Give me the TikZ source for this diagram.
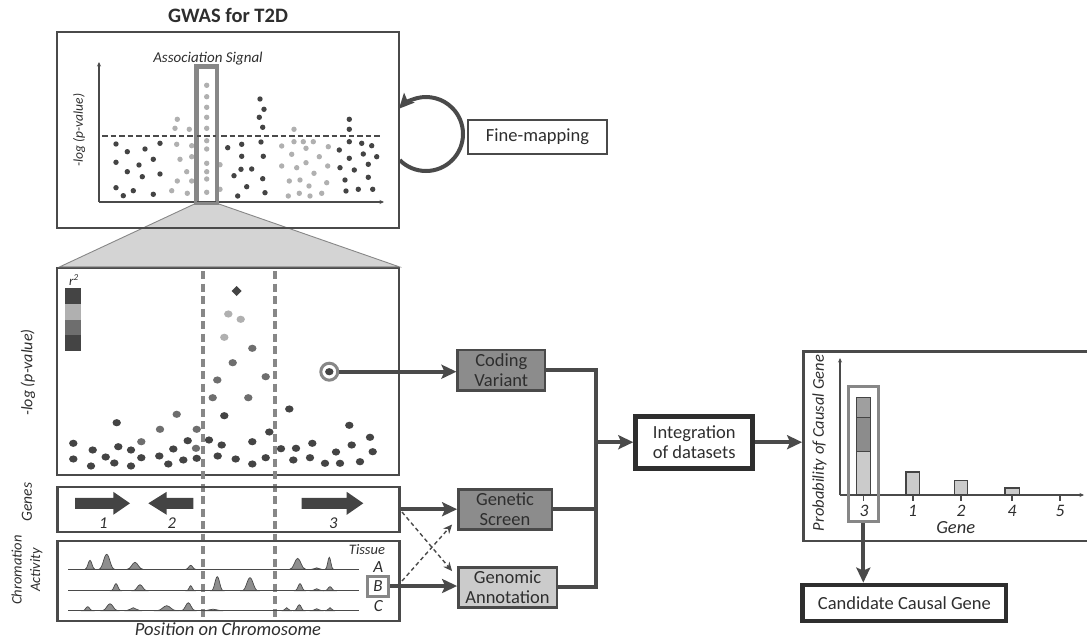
\documentclass[tikz,border=0pt]{standalone}
\usepackage{fontspec}
\setmainfont{Carlito}
\usetikzlibrary{arrows.meta}
\definecolor{ln}{HTML}{4A4A4A}
\definecolor{txt}{HTML}{2E2E2E}
\definecolor{dk}{HTML}{444444}
\definecolor{md}{HTML}{6E6E6E}
\definecolor{lt}{HTML}{B0B0B0}
\definecolor{hl}{HTML}{878787}
\definecolor{boxdk}{HTML}{8C8C8C}
\definecolor{boxlt}{HTML}{CBCBCB}
\definecolor{zoomfill}{HTML}{D4D4D4}
\definecolor{peakfill}{HTML}{8E8E8E}
\newcommand\fsz[2]{\fontsize{#1}{#2}\selectfont}
\newcommand\pk[4]{\filldraw[fill=peakfill,draw=ln,line width=0.7pt] ({#1-#3},#2) .. controls ({#1-#3/2},#2) and ({#1-#3/3},{#2-#4}) .. (#1,{#2-#4}) .. controls ({#1+#3/3},{#2-#4}) and ({#1+#3/2},#2) .. ({#1+#3},#2) -- cycle;}
\newcommand\blkR[4]{\fill[dk] (#1,{#4-5.5}) -- (#2,{#4-5.5}) -- (#2,{#4-11.5}) -- (#3,#4) -- (#2,{#4+11.5}) -- (#2,{#4+5.5}) -- (#1,{#4+5.5}) -- cycle;}
\begin{document}
\begin{tikzpicture}[x=1pt,y=-1pt,
  panel/.style={draw=ln,line width=2.4pt,inner sep=0pt},
  conn/.style={draw=ln,line width=4pt},
  tipbig/.style={-{Stealth[length=15pt,width=14pt,inset=3pt]}},
  procbox/.style={draw=ln,line width=2.4pt,align=center,text=txt,font=\fsz{18.5}{19.5},inner sep=0pt},
  thickbox/.style={draw=txt,line width=4.8pt,align=center,text=txt,font=\fsz{18.5}{20},inner sep=0pt,fill=white},
  hlbox/.style={draw=hl,line width=3pt,inner sep=0pt},
  axis/.style={draw=ln,line width=1.4pt,-{Stealth[length=4.5pt,width=4pt]}},
  lab/.style={text=txt,inner sep=0pt},
  vdash/.style={draw=hl,line width=3.4pt,dash pattern=on 8pt off 4.5pt},
  cross/.style={draw=ln,line width=1.4pt,dash pattern=on 4pt off 3pt,-{Stealth[length=9pt,width=8pt]}},
]
\useasboundingbox (0,0) rectangle (1087,640);

% ---------- top GWAS panel ----------
\node[lab,font=\bfseries\fsz{20.5}{22}] (title) at (228,15) {GWAS for T2D};
\node[hlbox,minimum width=19pt,minimum height=135pt] (sig) at (206.5,134.5) {};
\node[panel,minimum width=342pt,minimum height=207pt] (reg) at (228,371.5) {};
\fill[zoomfill,draw=hl,line width=0.9pt] (sig.south west) -- (sig.south east) -- ([xshift=-1pt]reg.north east) -- ([xshift=4pt]reg.north west) -- cycle;
\node[panel,minimum width=342pt,minimum height=196pt] (top) at (228,130) {};
\draw[axis] (99,202) -- (99,62);
\draw[axis] (99,202) -- (384,202);
\node[lab,rotate=90,font=\itshape\fsz{13.5}{14}] (ylab1) at (79,130) {-log (p-value)};
\node[lab,font=\itshape\fsz{15}{16}] (assoc) at (208,59) {Association Signal};
\draw[draw=ln,line width=2.4pt,dash pattern=on 5.5pt off 3pt] (102,136) -- (380,136);
\foreach \x/\y in {116/144,127.3/151.7,145/149,160/143.3,116/162.3,139/165,153.3/159.3,127.3/171.7,142.3/176.7,160/174,116/187.7,123.3/195.7,133.3/190.7,153.3/194.3,
260/99,264/109.3,259.3/117.3,262.7/127.3,227.7/147.7,241.7/144.3,261/142,241.7/156.3,263.3/156.3,241/169.3,251.7/169,234/175.7,262.7/178.7,246.7/186.7,237.7/196,265/192.7,
349.3/119.3,349.3/129.3,349.3/141.7,361.7/143.3,371.7/145.7,339.3/150,349.3/158.3,363.3/154,376.7/156.7,340/167.7,354.3/170,368.3/164.3,345/180,368.3/177.3,346/191,358.3/189.3,372.7/189.3}
  \fill[dk] (\x,\y) circle[radius=2.7];
\foreach \x/\y in {177.3/119.3,175/128.3,189.3/129.3,176.7/144.3,191.7/145.7,180/159.3,191.7/156.7,186.7/171.7,177.3/181,191.7/181,171.7/190.7,187.3/193.3,
206.7/85.3,206.7/96.7,206.7/107.3,206.7/117.3,206.7/128.3,206.7/140.7,206.7/149,206.7/163.3,206.7/171.7,206.7/179,206.7/192.3,220/164.7,220/189.3,
294/129.3,294/141.7,281.7/146,303.3/141.7,313.3/141.7,328.3/146.7,291.7/154.3,306/148.3,319.3/156.7,281.7/166,296.7/167.7,306/162.7,327.7/166,314/173.3,289.3/181,300/180,309/186,326.7/182.7,288.3/196,299.3/193.3,310/196,321.7/193.3}
  \fill[lt] (\x,\y) circle[radius=2.7];
\draw[hl,line width=3pt] (sig.south west) rectangle (sig.north east);

% fine-mapping loop
\draw[conn,tipbig] ([shift={(135:37)}]426,134) arc[start angle=135,end angle=-137,radius=37];
\node[draw=ln,line width=2pt,minimum width=139pt,minimum height=34pt,inner sep=0pt,text=txt,font=\fsz{18.5}{20}] (fm) at (537.5,137) {Fine-mapping};

% ---------- regional plot ----------
\node[lab,rotate=90,font=\itshape\fsz{16}{17}] (ylab2) at (28,372.5) {-log (p-value)};
\node[lab,font=\itshape\fsz{13}{13}] (r2) at (74,280) {r\textsuperscript{2}};
\fill[dk] (65,288) rectangle (81,304);
\fill[lt] (65,304) rectangle (81,319.5);
\fill[md] (65,319.5) rectangle (81,335);
\fill[dk] (65,335) rectangle (81,351);
\draw[vdash] (203,271) -- (203,619);
\draw[vdash] (275,271) -- (275,619);
\fill[dk] (236.7,286) -- (241.7,291) -- (236.7,296) -- (231.7,291) -- cycle;
\foreach \x/\y in {228.3/314,240.7/319.3,224.3/337.3}
  \fill[lt] (\x,\y) ellipse[x radius=4.2, y radius=3.6];
\foreach \x/\y in {252.3/348.3,232.7/362.7,217.3/380,265.7/376.7,212.7/397.7,248.3/397.7,176.7/414.3,160/429.3,196.7/429.3,141.3/441.7,196/448.3}
  \fill[md] (\x,\y) ellipse[x radius=4.2, y radius=3.6];
\foreach \x/\y in {224.3/415.7,289.3/409,116.7/422.7,349.3/425.3,269.3/432,73.3/443.3,92.7/450,118.3/446.7,131/450,187.7/440.7,173.3/449,209/440,221.7/445,252.3/441.7,281/448.7,296/448.3,312.3/443.3,370/437.3,351.7/445,336/452,372.7/451.7,73.3/459,91/466,105.7/457,114.3/463,131/466,141.3/457.7,159.3/456,168.3/464,183.3/460,196.7/458.3,217.7/456,235.7/459,252.3/464,265.7/457.7,293.3/460,310/457.7,325/463.3,340/463.3,360/461.7}
  \fill[dk] (\x,\y) ellipse[x radius=4.2, y radius=3.6];
\node[circle,draw=hl,line width=3pt,fill=white,minimum size=17pt,inner sep=0pt] (cv) at (329.3,371.7) {};
\fill[dk] (cv.center) ellipse[x radius=4.2, y radius=3.6];

% ---------- genes ----------
\node[panel,minimum width=342pt,minimum height=45pt] (genes) at (228.3,509.2) {};
\node[lab,rotate=90,font=\itshape\fsz{15.5}{16}] (geneslab) at (27,502) {Genes};
\blkR{75}{113.3}{130}{503.3}
\blkR{193.3}{166.7}{148.3}{503.3}
\blkR{301.7}{346.7}{363.3}{503.3}
\node[lab,font=\itshape\fsz{16.5}{16}] (g1) at (103.3,523.5) {1};
\node[lab,font=\itshape\fsz{16.5}{16}] (g2) at (171.7,523.5) {2};
\node[lab,font=\itshape\fsz{16.5}{16}] (g3) at (333.3,523.5) {3};

% ---------- chromatin ----------
\node[panel,minimum width=342pt,minimum height=80pt] (chrom) at (228.3,580.7) {};
\node[lab,rotate=90,align=center,font=\itshape\fsz{14.5}{18.5}] (chromlab) at (27,570) {Chromation\\Activity};
\pk{90}{569.3}{5}{9}
\pk{106.7}{569.3}{8}{15}
\pk{135}{569.3}{8}{7}
\pk{190.7}{569.3}{5}{4}
\pk{297.7}{569.3}{8}{11}
\pk{316.7}{569.3}{5}{1.5}
\pk{329.3}{569.3}{4}{12}
\pk{116}{590.7}{5}{7}
\pk{140}{590.7}{7}{6}
\pk{190.7}{590.7}{4}{5}
\pk{217.3}{590.7}{6}{14}
\pk{250}{590.7}{8}{13}
\pk{300}{590.7}{5}{7}
\pk{316.7}{590.7}{5}{2}
\pk{330}{590.7}{5}{4}
\pk{87.7}{610.7}{5}{4}
\pk{110}{610.7}{8}{7}
\pk{133.3}{610.7}{7}{3}
\pk{166.7}{610.7}{10}{5}
\pk{188.3}{610.7}{7}{8}
\pk{213}{610.7}{10}{1.5}
\pk{286.7}{610.7}{4}{3}
\pk{299.3}{610.7}{5}{6}
\pk{316.7}{610.7}{5}{2}
\pk{330}{610.7}{4}{3}
\draw[ln,line width=1.4pt] (68.3,569.3) -- (359.3,569.3);
\draw[ln,line width=1.4pt] (68.3,590.7) -- (359.3,590.7);
\draw[ln,line width=1.4pt] (68.3,610.7) -- (359.3,610.7);
\node[lab,font=\itshape\fsz{14.5}{14}] (tissue) at (367,550) {Tissue};
\node[lab,font=\itshape\fsz{17}{16}] (tA) at (378.3,567) {A};
\node[hlbox,minimum width=20.6pt,minimum height=20pt,font=\itshape\fsz{17}{16},text=txt] (bbox) at (378,586) {B};
\node[lab,font=\itshape\fsz{17}{16}] (tC) at (378.3,606.5) {C};
\node[lab,font=\itshape\fsz{18.5}{18}] (pos) at (228,629.5) {Position on Chromosome};

% ---------- evidence boxes ----------
\node[procbox,fill=boxdk,minimum width=87.3pt,minimum height=40.7pt] (coding) at (501.3,370.3) {Coding\\Variant};
\node[procbox,fill=boxdk,minimum width=93.4pt,minimum height=40pt] (gs) at (505,509.3) {Genetic\\Screen};
\node[procbox,fill=boxlt,minimum width=98.4pt,minimum height=40pt] (ga) at (507.5,587.3) {Genomic\\Annotation};
\draw[conn,tipbig] (cv.east) -- (cv.east -| coding.west);
\draw[conn,tipbig] (genes.east) -- (genes.east -| gs.west);
\draw[conn,tipbig] (bbox.east) -- (bbox.east -| ga.west);
\coordinate (d1s) at (402,512);
\coordinate (d2s) at (402,581);
\draw[cross] (d1s) -- ([shift={(-5,5)}]ga.north west);
\draw[cross] (d2s) -- ([shift={(-5,-6)}]gs.south west);

% bus and integration
\coordinate (bus) at (596,0);
\draw[conn,line join=miter] (coding.east) -| (bus |- ga.east) -- (ga.east);
\draw[conn] (gs.east) -- (gs.east -| bus);
\node[thickbox,minimum width=117pt,minimum height=52pt] (integ) at (694.2,442.2) {Integration\\of datasets};
\draw[conn,tipbig] (bus |- integ.west) -- (integ.west);

% ---------- right panel ----------
\node[panel,minimum width=288pt,minimum height=189.3pt] (rp) at (947.3,446.3) {};
\draw[conn,tipbig] (integ.east) -- (integ.east -| rp.west);
\draw[axis] (840,495) -- (840,358);
\draw[axis] (840,495) -- (1084,495);
\node[lab,rotate=90,font=\itshape\fsz{16.5}{16}] (pylab) at (819.5,443) {Probability of Causal Gene};
\begin{scope}[draw=dk,line width=1.4pt]
\filldraw[fill=boxlt] (856.7,451.7) rectangle (870.7,495);
\filldraw[fill=boxdk] (856.7,417.3) rectangle (870.7,451.7);
\filldraw[fill=hl!80!white] (856.7,397.3) rectangle (870.7,417.3);
\filldraw[fill=boxlt] (906,472) rectangle (919.3,495);
\filldraw[fill=boxlt] (954.7,480.7) rectangle (967.3,495);
\filldraw[fill=boxlt] (1005,488) rectangle (1019.3,495);
\end{scope}
\foreach \tx in {863.7,913,961,1012,1060}
  \draw[ln,line width=1.4pt] (\tx,495) -- (\tx,501);
\node[lab,font=\itshape\fsz{17.5}{17}] (t3) at (864,511) {3};
\node[lab,font=\itshape\fsz{17.5}{17}] (t1) at (912.5,511) {1};
\node[lab,font=\itshape\fsz{17.5}{17}] (t2) at (961,511) {2};
\node[lab,font=\itshape\fsz{17.5}{17}] (t4) at (1012,511) {4};
\node[lab,font=\itshape\fsz{17.5}{17}] (t5) at (1060,511) {5};
\node[lab,font=\itshape\fsz{18.5}{18}] (genex) at (955.7,528) {Gene};
\node[hlbox,minimum width=30pt,minimum height=135pt] (g3box) at (863.3,454.2) {};
\node[thickbox,minimum width=203.3pt,minimum height=36pt] (cand) at (904.4,603) {Candidate Causal Gene};
\draw[conn,tipbig] (g3box.south) -- (g3box.south |- cand.north);
\end{tikzpicture}
\end{document}
